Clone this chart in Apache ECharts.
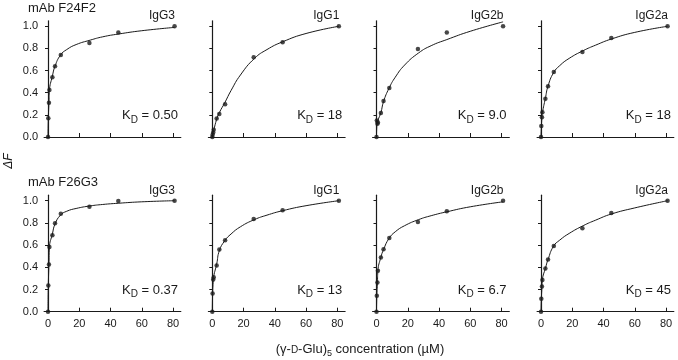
<!DOCTYPE html>
<html><head><meta charset="utf-8">
<script src="https://cdn.jsdelivr.net/npm/echarts@6/dist/echarts.min.js"></script>
<style>html,body{margin:0;padding:0;background:#fff}#c{width:678px;height:360px}</style>
</head><body><div id="c"></div>
<script>
// ---- data ----
const conc = [0, 0.2, 0.6, 0.9, 2.8, 4.5, 8.2, 26.5, 45, 81];
const fitX = [0, 0.2, 0.6, 0.9, 2.8, 4.5, 8, 12, 18, 27, 35, 45, 60, 81];
const xTicks = [0, 20, 40, 60, 80];
const yTicks = [0, 0.2, 0.4, 0.6, 0.8, 1.0];
const antibodies = ['mAb F24F2', 'mAb F26G3'];
const isotypes = ['IgG3', 'IgG1', 'IgG2b', 'IgG2a'];
const kdF24F2 = ['0.50', '18', '9.0', '18'];
const kdF26G3 = ['0.37', '13', '6.7', '45'];

const ptsF24F2_IgG3  = [0, 0.17, 0.31, 0.425, 0.54, 0.64, 0.74, 0.85, 0.945, 1.0];
const ptsF24F2_IgG1  = [0, 0.02, 0.04, 0.066, 0.166, 0.208, 0.295, 0.72, 0.855, 1.0];
const ptsF24F2_IgG2b = [0, 0.15, 0.12, 0.13, 0.217, 0.325, 0.443, 0.795, 0.943, 1.0];
const ptsF24F2_IgG2a = [0, 0.099, 0.178, 0.223, 0.346, 0.458, 0.587, 0.768, 0.895, 1.0];
const ptsF26G3_IgG3  = [0, 0.237, 0.426, 0.583, 0.688, 0.796, 0.883, 0.946, 0.997, 1.0];
const ptsF26G3_IgG1  = [0, 0.165, 0.29, 0.31, 0.417, 0.561, 0.643, 0.835, 0.913, 1.0];
const ptsF26G3_IgG2b = [0, 0.144, 0.264, 0.369, 0.489, 0.562, 0.664, 0.808, 0.904, 1.0];
const ptsF26G3_IgG2a = [0, 0.117, 0.228, 0.285, 0.39, 0.471, 0.592, 0.751, 0.889, 1.0];

const fitF24F2_IgG3  = [0, 0.17, 0.31, 0.42, 0.55, 0.64, 0.74, 0.79, 0.835, 0.875, 0.905, 0.93, 0.96, 0.99];
const fitF24F2_IgG1  = [0, 0.02, 0.04, 0.06, 0.16, 0.22, 0.31, 0.42, 0.56, 0.71, 0.79, 0.86, 0.935, 1.0];
const fitF24F2_IgG2b = [0, 0.10, 0.13, 0.15, 0.22, 0.32, 0.44, 0.54, 0.65, 0.76, 0.825, 0.88, 0.955, 1.04];
const fitF24F2_IgG2a = [0, 0.08, 0.18, 0.22, 0.35, 0.46, 0.58, 0.645, 0.71, 0.78, 0.83, 0.885, 0.945, 1.0];
const fitF26G3_IgG3  = [0, 0.24, 0.43, 0.58, 0.70, 0.79, 0.87, 0.905, 0.93, 0.953, 0.966, 0.977, 0.99, 1.0];
const fitF26G3_IgG1  = [0, 0.16, 0.28, 0.32, 0.43, 0.55, 0.64, 0.70, 0.765, 0.83, 0.87, 0.91, 0.955, 1.0];
const fitF26G3_IgG2b = [0, 0.14, 0.26, 0.37, 0.49, 0.56, 0.66, 0.72, 0.775, 0.83, 0.865, 0.90, 0.945, 0.99];
const fitF26G3_IgG2a = [0, 0.11, 0.22, 0.29, 0.39, 0.47, 0.59, 0.645, 0.705, 0.775, 0.825, 0.88, 0.935, 1.0];

const points = [
  [ptsF24F2_IgG3, ptsF24F2_IgG1, ptsF24F2_IgG2b, ptsF24F2_IgG2a],
  [ptsF26G3_IgG3, ptsF26G3_IgG1, ptsF26G3_IgG2b, ptsF26G3_IgG2a]
];
const fits = [
  [fitF24F2_IgG3, fitF24F2_IgG1, fitF24F2_IgG2b, fitF24F2_IgG2a],
  [fitF26G3_IgG3, fitF26G3_IgG1, fitF26G3_IgG2b, fitF26G3_IgG2a]
];
const kds = [kdF24F2, kdF26G3];

// ---- layout ----
const FONT = 'Liberation Sans, Arial, Helvetica, sans-serif';
const INK = '#1a1a1a';
const colX0 = [48, 212.3, 376.5, 541];      // pixel of x = 0
const pxPerUnit = 125 / 80;
const xMin = -2.5, xMax = 85, yMax = 1.05;
const rowZero = [137, 311.7];                 // pixel of y = 0
const pxPerY = [110.7, 111];

const grids = [], xAxes = [], yAxes = [], series = [], graphics = [];
let idx = 0;
for (let r = 0; r < 2; r++) {
  for (let c = 0; c < 4; c++) {
    const left = colX0[c] + xMin * pxPerUnit;
    const width = (xMax - xMin) * pxPerUnit;
    const top = rowZero[r] - yMax * pxPerY[r];
    const height = yMax * pxPerY[r];
    grids.push({ left: left, top: top, width: width, height: height, containLabel: false, outerBoundsMode: 'none' });
    xAxes.push({
      gridIndex: idx, type: 'value', min: xMin, max: xMax,
      axisLine: { show: true, onZero: true, lineStyle: { color: INK, width: 1.2 } },
      axisTick: { show: true, inside: true, length: 4, customValues: xTicks, lineStyle: { color: INK, width: 1 } },
      axisLabel: { show: r === 1, customValues: xTicks, margin: 7, color: INK, fontSize: 11, fontFamily: FONT },
      splitLine: { show: false }
    });
    yAxes.push({
      gridIndex: idx, type: 'value', min: 0, max: yMax,
      axisLine: { show: true, onZero: true, lineStyle: { color: INK, width: 1.2 } },
      axisTick: { show: true, inside: false, length: 3, customValues: yTicks, lineStyle: { color: INK, width: 1 } },
      axisLabel: { show: c === 0, customValues: yTicks, margin: 6, color: INK, fontSize: 11, fontFamily: FONT,
                   formatter: v => v.toFixed(1) },
      splitLine: { show: false }
    });
    series.push({
      type: 'line', xAxisIndex: idx, yAxisIndex: idx,
      data: fitX.map((x, i) => [x, fits[r][c][i]]),
      smooth: 0.5, showSymbol: false, symbol: 'none',
      lineStyle: { color: INK, width: 1 }, silent: true, clip: false
    });
    series.push({
      type: 'scatter', xAxisIndex: idx, yAxisIndex: idx,
      data: conc.map((x, i) => [x, points[r][c][i]]),
      symbol: 'circle', symbolSize: 4.5, itemStyle: { color: INK }, silent: true, clip: false
    });
    // isotype label
    graphics.push({
      type: 'text', x: colX0[c] + 127, y: rowZero[r] - 121,
      style: { text: isotypes[c], font: '12px ' + FONT, fill: INK, align: 'right', verticalAlign: 'middle' }
    });
    // KD label
    graphics.push({
      type: 'text', x: colX0[c] + 130, y: rowZero[r] - 21,
      style: {
        text: '{m|K}{s|D}{m| = ' + kds[r][c] + '}', fill: INK, align: 'right', verticalAlign: 'middle',
        rich: {
          m: { fontSize: 13, fontFamily: FONT, lineHeight: 14, verticalAlign: 'top', fill: INK },
          s: { fontSize: 10, fontFamily: FONT, padding: [6, 0, 0, 0], lineHeight: 10, verticalAlign: 'top', fill: INK }
        }
      }
    });
    idx++;
  }
}
// antibody titles
graphics.push({ type: 'text', x: 28, y: 8, style: { text: antibodies[0], font: '13px ' + FONT, fill: INK, verticalAlign: 'middle' } });
graphics.push({ type: 'text', x: 28, y: 182, style: { text: antibodies[1], font: '13px ' + FONT, fill: INK, verticalAlign: 'middle' } });
// y title
graphics.push({ type: 'text', x: 9, y: 161, rotation: Math.PI / 2,
  style: { text: 'ΔF', font: 'italic 12px ' + FONT, fill: INK, align: 'center', verticalAlign: 'middle' } });
// x title
graphics.push({ type: 'text', x: 360, y: 350,
  style: { text: '{m|(γ-}{c|D}{m|-Glu)}{s|5}{m| concentration (µM)}', fill: INK, align: 'center', verticalAlign: 'middle',
    rich: {
      m: { fontSize: 13, fontFamily: FONT, lineHeight: 14, verticalAlign: 'top', fill: INK },
      c: { fontSize: 10, fontFamily: FONT, padding: [2, 0, 0, 0], lineHeight: 10, verticalAlign: 'top', fill: INK },
      s: { fontSize: 9, fontFamily: FONT, padding: [6, 0, 0, 0], lineHeight: 9, verticalAlign: 'top', fill: INK }
    } } });

const chart = echarts.init(document.getElementById('c'), null, { renderer: 'canvas' });
chart.setOption({
  animation: false,
  backgroundColor: '#fff',
  grid: grids, xAxis: xAxes, yAxis: yAxes, series: series, graphic: graphics
});
</script></body></html>
